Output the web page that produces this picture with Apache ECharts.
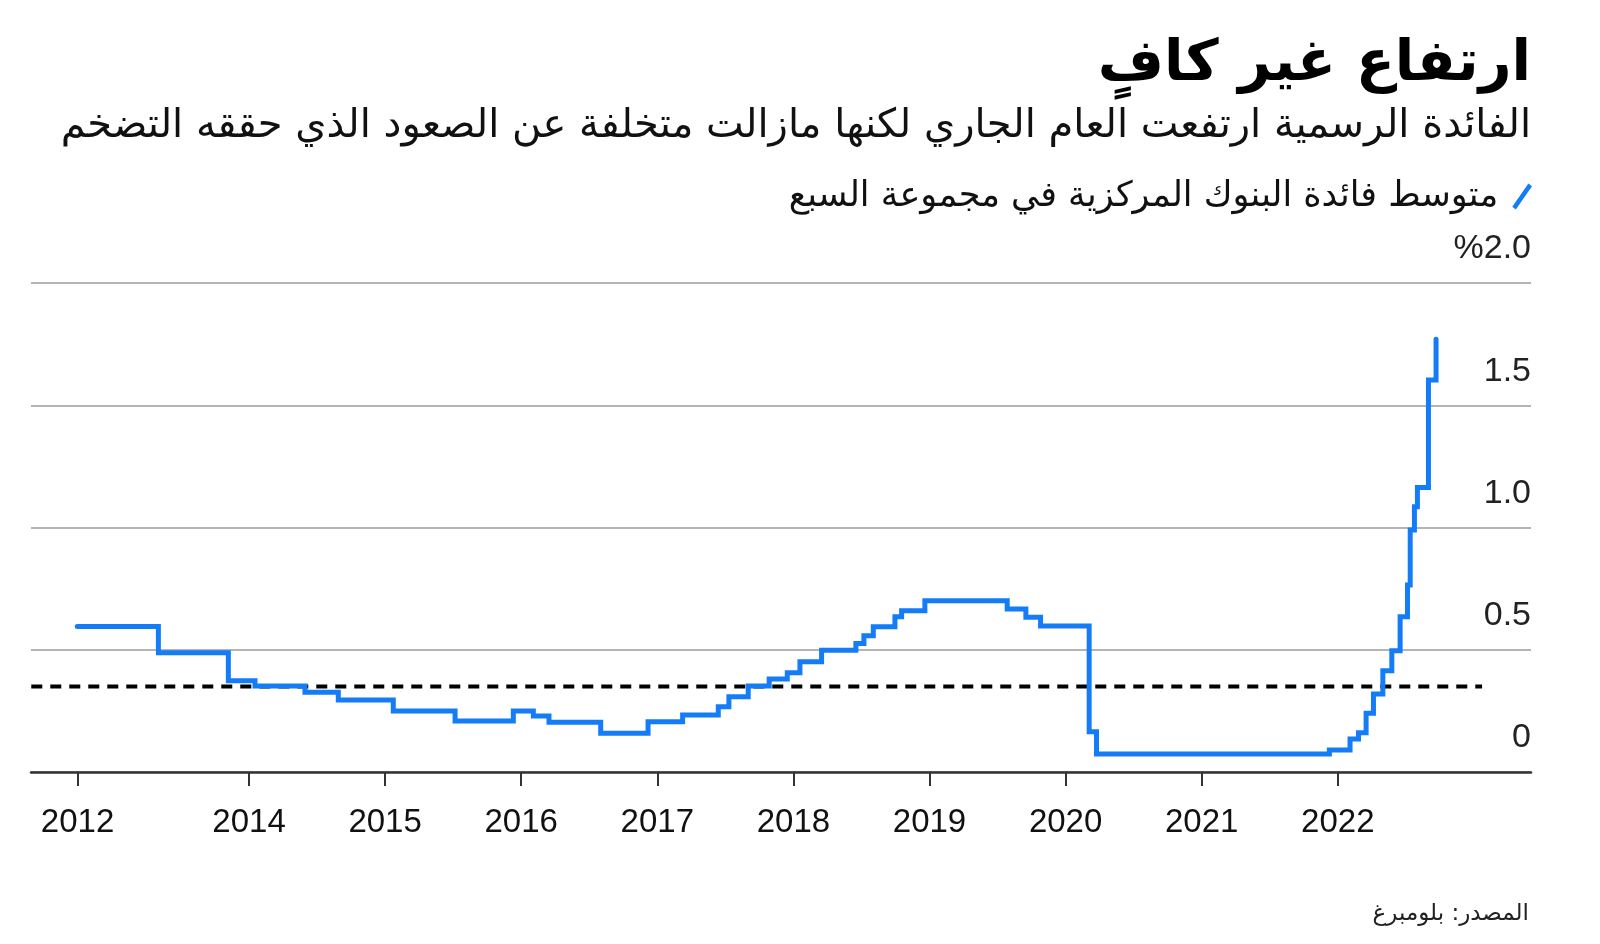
<!DOCTYPE html>
<html>
<head>
<meta charset="utf-8">
<script src="https://cdn.jsdelivr.net/npm/echarts@6/dist/echarts.min.js"></script>
<style>
html,body{margin:0;padding:0;background:#fff;}
#chart{width:1600px;height:944px;}
</style>
</head>
<body>
<div id="chart"></div>
<script>
// ---- data (fractional years, percent) ----
const rateDates = [2012.738, 2013.334, 2013.848, 2014.044, 2014.411, 2014.656, 2015.060, 2015.514, 2015.942, 2016.089,
  2016.204, 2016.584, 2016.932, 2017.186, 2017.448, 2017.526, 2017.668, 2017.822, 2017.955, 2018.048,
  2018.207, 2018.459, 2018.518, 2018.587, 2018.746, 2018.795, 2018.966, 2019.571, 2019.708, 2019.816,
  2020.173, 2020.227, 2021.938, 2022.090, 2022.152, 2022.208, 2022.262, 2022.331, 2022.397, 2022.458,
  2022.512, 2022.532, 2022.563, 2022.585, 2022.666, 2022.722];
const rateValues = [0.595, 0.488, 0.373, 0.352, 0.326, 0.294, 0.250, 0.209, 0.250, 0.229,
  0.203, 0.158, 0.206, 0.233, 0.267, 0.308, 0.352, 0.380, 0.406, 0.451,
  0.498, 0.526, 0.557, 0.594, 0.635, 0.660, 0.700, 0.667, 0.633, 0.597,
  0.165, 0.074, 0.090, 0.135, 0.161, 0.240, 0.319, 0.414, 0.496, 0.635,
  0.765, 0.990, 1.085, 1.164, 1.603, 1.770];
const refDates = [2012.40, 2023.06];
const refValues = [0.35, 0.35];
const xTickYears = [2012.74, 2014, 2015, 2016, 2017, 2018, 2019, 2020, 2021, 2022];
const xTickLabels = ['2012', '2014', '2015', '2016', '2017', '2018', '2019', '2020', '2021', '2022'];
const yTickValues = [0, 0.5, 1.0, 1.5, 2.0];
const yTickLabels = ['0', '0.5', '1.0', '1.5', '%2.0'];

const titleText = 'ارتفاع غير كافٍ';
const subtitleText = 'الفائدة الرسمية ارتفعت العام الجاري لكنها مازالت متخلفة عن الصعود الذي حققه التضخم';
const seriesName = 'متوسط فائدة البنوك المركزية في مجموعة السبع';
const sourceText = 'المصدر: بلومبرغ';

const AR = "'DejaVu Sans', 'Noto Sans', sans-serif";
const NUM = "'Liberation Sans', Arial, sans-serif";

const chart = echarts.init(document.getElementById('chart'), null, {renderer: 'canvas'});
chart.setOption({
  backgroundColor: '#ffffff',
  animation: false,
  title: [
    {text: titleText, right: 64, top: 32,
     textStyle: {fontFamily: AR, fontSize: 57, fontWeight: 'bold', color: '#000'}},
    {text: subtitleText, right: 64, top: 102,
     textStyle: {fontFamily: AR, fontSize: 40, fontWeight: 'normal', color: '#111'}},
    {text: sourceText, right: 66, top: 898,
     textStyle: {fontFamily: AR, fontSize: 23, fontWeight: 'normal', color: '#222'}}
  ],
  legend: {
    right: 63, top: 174, align: 'right',
    itemWidth: 22, itemHeight: 26,
    data: [{name: seriesName,
      icon: 'path://M0,26 L18,0 L22,3 L4,29 Z',
      itemStyle: {color: '#137cf6'}}],
    textStyle: {fontFamily: AR, fontSize: 35, color: '#111', padding: [0, 8, 0, 0]}
  },
  grid: {left: 31, right: 69, top: 283, bottom: 944 - 772, containLabel: false},
  xAxis: {
    type: 'value', min: 2012.398, max: 2023.4196,
    axisLine: {show: true, lineStyle: {color: '#333', width: 2.5}},
    axisTick: {show: true, customValues: xTickYears, length: 14, lineStyle: {color: '#333', width: 2}},
    axisLabel: {
      customValues: xTickYears, margin: 34, verticalAlign: 'top',
      fontFamily: NUM, fontSize: 33, color: '#111',
      formatter: function (v) {
        for (let i = 0; i < xTickYears.length; i++) {
          if (Math.abs(xTickYears[i] - v) < 1e-6) return xTickLabels[i];
        }
        return '';
      }
    },
    splitLine: {show: false}
  },
  yAxis: {
    type: 'value', position: 'right', min: 0, max: 2, interval: 0.5,
    axisLine: {show: false}, axisTick: {show: false},
    splitLine: {show: true, lineStyle: {color: '#b4b4b4', width: 2}},
    axisLabel: {
      inside: true, margin: 0, align: 'right', verticalAlign: 'bottom',
      lineHeight: 34, padding: [0, 0, 17, 0],
      fontFamily: NUM, fontSize: 34, color: '#222',
      formatter: function (v) {
        for (let i = 0; i < yTickValues.length; i++) {
          if (Math.abs(yTickValues[i] - v) < 1e-6) return yTickLabels[i];
        }
        return '';
      }
    }
  },
  series: [
    {
      name: 'ref', type: 'line', silent: true, symbol: 'none',
      data: refDates.map((d, i) => [d, refValues[i]]),
      lineStyle: {color: '#000', width: 4, type: [11, 8]},
      z: 2
    },
    {
      name: seriesName, type: 'line', step: 'end', symbol: 'none',
      data: rateDates.map((d, i) => [d, rateValues[i]]),
      lineStyle: {color: '#137cf6', width: 5, cap: 'round', join: 'miter'},
      z: 3
    }
  ]
});
</script>
</body>
</html>
